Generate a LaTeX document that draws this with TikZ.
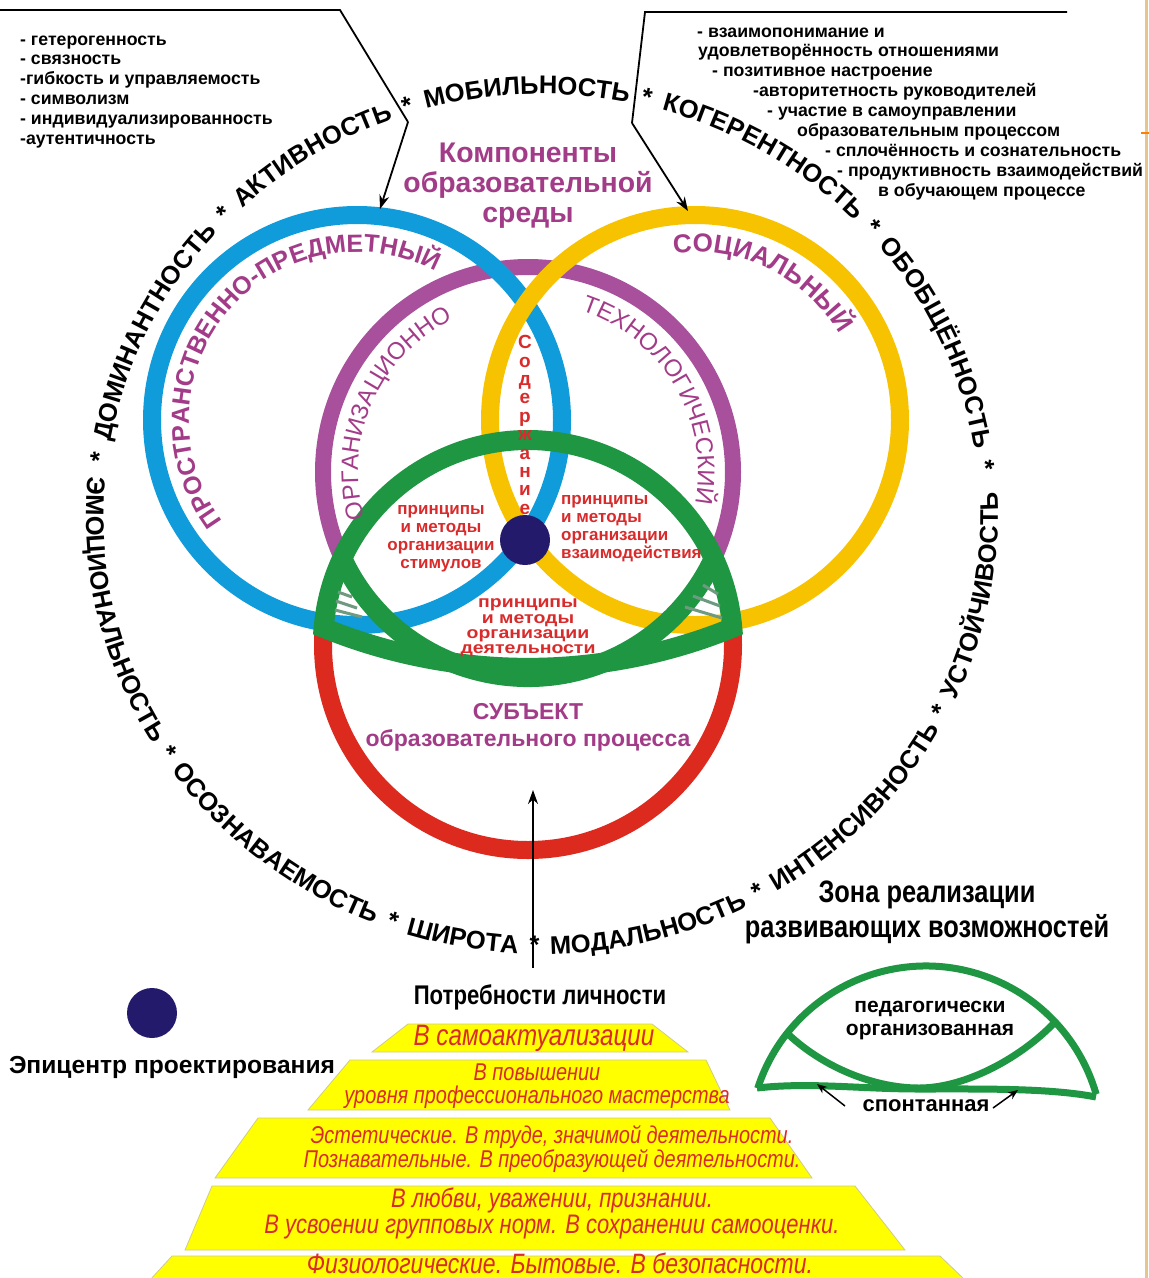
\documentclass[tikz,border=0pt]{standalone}
\usepackage{fontspec}
\setmainfont{Liberation Sans}
\newfontfamily\narrowf{Liberation Sans}[FakeStretch=0.82]
\newfontfamily\widef{Liberation Sans}[FakeStretch=1.18]
\usetikzlibrary{decorations.text,arrows.meta}
\definecolor{cblue}{HTML}{109CDA}
\definecolor{cyel}{HTML}{F7C300}
\definecolor{cpur}{HTML}{A9509C}
\definecolor{cred}{HTML}{DC2A1F}
\definecolor{cgreen}{HTML}{1E9642}
\definecolor{cnavy}{HTML}{241A6C}
\definecolor{tpur}{HTML}{A33C88}
\definecolor{tred}{HTML}{D92B2B}
\definecolor{pyr}{HTML}{FFFF00}
\definecolor{pyrline}{HTML}{CFCB8A}
\definecolor{hatchc}{HTML}{6E9A80}
\definecolor{framec}{HTML}{E4C68E}
\newcommand\fsz[2]{\fontsize{#1}{#2}\selectfont}
\newcommand\ringf{\fsz{25.5}{30}\bfseries}
\begin{document}
\begin{tikzpicture}[x=1pt,y=1pt,
  conn/.style={line width=1.8pt, -{Stealth[length=14pt,width=10pt]}},
  thinarrow/.style={line width=1.5pt, -{Stealth[length=10pt,width=8pt]}},
  plainline/.style={line width=1.8pt},
  lst/.style={anchor=base west, inner sep=0pt, font=\bfseries\fsz{17.7}{20}},
  redtxt/.style={text=tred, font=\bfseries\fsz{17}{18}, inner sep=0pt, align=center},
  pyrtier/.style={fill=pyr, draw=pyrline, line width=0.8pt},
  pyrtxt/.style={text=tred, inner sep=0pt, align=center},
  hatchl/.style={hatchc, line width=3pt},
  blacktxt/.style={inner sep=0pt, align=center},
  zoneline/.style={cgreen, line width=7pt}
]
\fill[white] (0,0) rectangle (1149,-1278);
\useasboundingbox (0,0) rectangle (1149,-1278);
\draw[framec, line width=3pt] (1146.5,0) -- (1146.5,-1278);
\draw[orange, line width=2pt] (1141,-133) -- (1149,-133);

% ---------- circles ----------
\draw[cpur, line width=16pt] (528,-472) circle (205);
\draw[cblue, line width=18pt] (357,-420) circle (205);
\draw[cyel, line width=18pt] (695,-420) circle (205);
\draw[cred, line width=18pt] (528,-645) circle (205);
\draw[cgreen, line width=20pt, line join=miter]
  (528,-645) ++(90:205) arc[start angle=90, end angle=4.8, radius=205]
  arc[start angle=292.16, end angle=247.84, radius=541.7]
  arc[start angle=175.2, end angle=90, radius=205];
\draw[cgreen, line width=20pt] (528,-472) ++(204.5:205) arc[start angle=204.5, end angle=335.5, radius=205];
\fill[cnavy] (525,-540) circle (25);

% hatches
\draw[hatchl] (338,-592) -- (352,-597);
\draw[hatchl] (336,-601) -- (357,-608);
\draw[hatchl] (335,-610) -- (362,-617);
\draw[hatchl] (703,-585) -- (718,-594);
\draw[hatchl] (693,-596) -- (720,-606);
\draw[hatchl] (685,-607) -- (722,-618);

% ---------- outer ring text ----------
\path[decorate, decoration={text along path, text align={fit to path stretching spaces},
  text={|\ringf|* ДОМИНАНТНОСТЬ * АКТИВНОСТЬ * МОБИЛЬНОСТЬ * КОГЕРЕНТНОСТЬ * ОБОБЩЁННОСТЬ *}}]
  (542,-515) ++(173:438 and 421) arc[start angle=173, end angle=6, x radius=438, y radius=421];
\path[decorate, decoration={text along path, text align={fit to path stretching spaces},
  text={|\ringf|ЭМОЦИОНАЛЬНОСТЬ * ОСОЗНАВАЕМОСТЬ * ШИРОТА * МОДАЛЬНОСТЬ * ИНТЕНСИВНОСТЬ * УСТОЙЧИВОСТЬ}}]
  (542,-515) ++(175:456 and 439) arc[start angle=175, end angle=363, x radius=456, y radius=439];

% ---------- texts on circles ----------
\path[decorate, decoration={text along path, text align=center,
  text={|\color{tpur}\fsz{25}{30}\bfseries|ПРОСТРАНСТВЕННО-ПРЕДМЕТНЫЙ}}]
  (357,-420) ++(239.5:168) arc[start angle=239.5, end angle=39.5, radius=168];
\path[decorate, decoration={text along path, text align=center,
  text={|\color{tpur}\fsz{26}{30}\bfseries|СОЦИАЛЬНЫЙ}}]
  (695,-420) ++(154:168) arc[start angle=154, end angle=-26, radius=168];
\path[decorate, decoration={text along path, text align=center,
  text={|\color{tpur}\fsz{24}{30}|ОРГАНИЗАЦИОННО}}]
  (528,-472) ++(246:170) arc[start angle=246, end angle=66, radius=170];
\path[decorate, decoration={text along path, text align=center,
  text={|\color{tpur}\fsz{24}{30}|ТЕХНОЛОГИЧЕСКИЙ}}]
  (528,-472) ++(120.5:170) arc[start angle=120.5, end angle=-59.5, radius=170];

\node[redtxt, font=\bfseries\fsz{19}{18.4}] (sod) at (525,-425) {С\\о\\д\\е\\р\\ж\\а\\н\\и\\е};

% ---------- central labels ----------
\node[blacktxt, text=tpur, font=\bfseries\fsz{28.4}{30}] (title) at (528,-186) {Компоненты\\образовательной\\среды};
\node[redtxt] (stim) at (441,-539) {принципы\\и методы\\организации\\стимулов};
\node[redtxt, align=left, anchor=west] (vzaim) at (561,-529) {принципы\\и методы\\организации\\взаимодействия};
\node[redtxt, font=\widef\bfseries\fsz{16.5}{15.3}] (deyat) at (528,-628) {принципы\\и методы\\организации\\деятельности};
\node[blacktxt, text=tpur, font=\bfseries\fsz{23}{27}] (subj) at (528,-727) {СУБЪЕКТ\\образовательного процесса};

% ---------- lists ----------
\node[lst] (a1) at (20,-45) {- гетерогенность};
\node[lst] (a2) at (20,-64) {- связность};
\node[lst] (a3) at (20,-84) {-гибкость и управляемость};
\node[lst] (a4) at (20,-104) {- символизм};
\node[lst] (a5) at (20,-124) {- индивидуализированность};
\node[lst] (a6) at (20,-144) {-аутентичность};

\node[lst] (b1) at (697,-37) {- взаимопонимание и};
\node[lst] (b2) at (698,-56) {удовлетворённость отношениями};
\node[lst] (b3) at (712,-76) {- позитивное настроение};
\node[lst] (b4) at (753,-96) {-авторитетность руководителей};
\node[lst] (b5) at (767,-116) {- участие в самоуправлении};
\node[lst] (b6) at (797,-136) {образовательным процессом};
\node[lst] (b7) at (825,-156) {- сплочённость и сознательность};
\node[lst] (b8) at (837,-176) {- продуктивность взаимодействий};
\node[lst] (b9) at (878,-196) {в обучающем процессе};

% ---------- brackets ----------
\coordinate (la) at (0,-10);
\coordinate (lb) at (340,-10);
\coordinate (lc) at (408,-122);
\coordinate (ld) at (380,-209);
\draw[plainline] (la) -- (lb) -- (lc);
\draw[conn] (lc) -- (ld);
\coordinate (ra) at (1067,-12);
\coordinate (rb) at (645,-12);
\coordinate (rc) at (632,-123);
\coordinate (rd) at (688,-211);
\draw[plainline] (ra) -- (rb) -- (rc);
\draw[conn] (rc) -- (rd);

% ---------- needs arrow ----------
\coordinate (na) at (533,-968);
\coordinate (nb) at (533,-790);
\draw[conn, line width=1.5pt] (na) -- (nb);

% ---------- pyramid ----------
\node[blacktxt, font=\narrowf\bfseries\fsz{27}{30}] (potr) at (540,-997) {Потребности личности};
\draw[pyrtier] (408,-1024) -- (652,-1024) -- (688,-1052) -- (372,-1052) -- cycle;
\draw[pyrtier] (350,-1060) -- (706,-1060) -- (730,-1110) -- (308,-1110) -- cycle;
\draw[pyrtier] (258,-1118) -- (770,-1118) -- (812,-1178) -- (215,-1178) -- cycle;
\draw[pyrtier] (212,-1186) -- (855,-1186) -- (905,-1250) -- (185,-1250) -- cycle;
\draw[pyrtier] (172,-1256) -- (940,-1256) -- (965,-1280) -- (150,-1280) -- cycle;
\node[pyrtxt, font=\narrowf\itshape\fsz{29.5}{30}] (p1) at (534,-1038) {В самоактуализации};
\node[pyrtxt, font=\narrowf\itshape\fsz{24.3}{23}] (p2) at (537,-1086) {В повышении\\уровня профессионального мастерства};
\node[pyrtxt, font=\narrowf\itshape\fsz{24.3}{24}] (p3) at (552,-1149) {Эстетические. В труде, значимой деятельности.\\Познавательные. В преобразующей деятельности.};
\node[pyrtxt, font=\narrowf\itshape\fsz{26.8}{26}] (p4) at (552,-1213) {В любви, уважении, признании.\\В усвоении групповых норм. В сохранении самооценки.};
\node[pyrtxt, font=\narrowf\itshape\fsz{28}{30}] (p5) at (560,-1263) {Физиологические. Бытовые. В безопасности.};

% ---------- epicentre ----------
\fill[cnavy] (152,-1013) circle (25);
\node[blacktxt, font=\bfseries\fsz{24.6}{28}] (epi) at (172,-1067) {Эпицентр проектирования};

% ---------- zone ----------
\node[blacktxt, font=\narrowf\bfseries\fsz{31}{35}] (zona) at (927,-912) {Зона реализации\\развивающих возможностей};
\draw[zoneline] (926,-1143) ++(162:177) arc[start angle=162, end angle=16, radius=177];
\draw[zoneline] (787,-1033) .. controls (819,-1064) and (870,-1088) .. (919,-1088)
   .. controls (968,-1088) and (1024,-1055) .. (1055,-1022);
\draw[zoneline, line join=round] (757,-1088) .. controls (810,-1082) and (860,-1089) .. (919,-1089)
   .. controls (985,-1089) and (1050,-1088) .. (1096,-1097);
\node[blacktxt, font=\bfseries\fsz{21}{23}] (ped) at (930,-1021) {педагогически\\организованная};
\node[blacktxt, font=\bfseries\fsz{22}{23}] (spont) at (926,-1106) {спонтанная};
\coordinate (s1a) at (845,-1106);
\coordinate (s1b) at (817,-1084);
\coordinate (s2a) at (993,-1108);
\coordinate (s2b) at (1018,-1090);
\draw[thinarrow] (s1a) -- (s1b);
\draw[thinarrow] (s2a) -- (s2b);
\end{tikzpicture}
\end{document}
